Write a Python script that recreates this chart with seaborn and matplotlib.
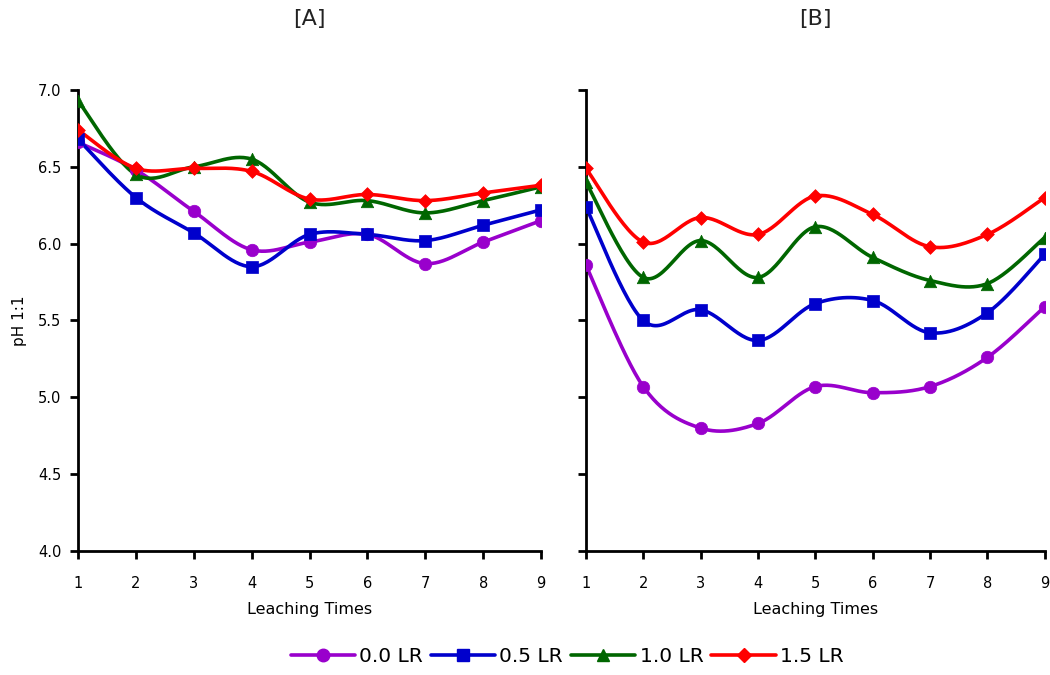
import numpy as np
import pandas as pd
import matplotlib
matplotlib.use("Agg")
import matplotlib.pyplot as plt
import seaborn as sns
from matplotlib.lines import Line2D

# Data
leaching = [1, 2, 3, 4, 5, 6, 7, 8, 9]
labels = ["0.0 LR", "0.5 LR", "1.0 LR", "1.5 LR"]

a_00 = [6.66, 6.48, 6.21, 5.96, 6.01, 6.06, 5.87, 6.01, 6.15]
a_05 = [6.68, 6.30, 6.07, 5.85, 6.06, 6.06, 6.02, 6.12, 6.22]
a_10 = [6.93, 6.45, 6.50, 6.55, 6.27, 6.28, 6.20, 6.28, 6.37]
a_15 = [6.74, 6.49, 6.49, 6.47, 6.29, 6.32, 6.28, 6.33, 6.38]

b_00 = [5.86, 5.07, 4.80, 4.83, 5.07, 5.03, 5.07, 5.26, 5.59]
b_05 = [6.24, 5.50, 5.57, 5.37, 5.61, 5.63, 5.42, 5.55, 5.93]
b_10 = [6.40, 5.78, 6.02, 5.78, 6.11, 5.91, 5.76, 5.74, 6.04]
b_15 = [6.49, 6.01, 6.17, 6.06, 6.31, 6.19, 5.98, 6.06, 6.30]

colors = ["#9900CC", "#0000CC", "#006600", "#FF0000"]
markers = ["o", "s", "^", "D"]
msizes = [9, 8, 9, 7]


def smooth(x, y, n=30):
    # Excel-style smoothed line (Catmull-Rom / Bezier through the points)
    p = np.column_stack([x, y]).astype(float)
    p = np.vstack([p[0], p, p[-1]])
    out = []
    t = np.linspace(0, 1, n)[:, None]
    for i in range(1, len(p) - 2):
        p0, p1, p2, p3 = p[i - 1], p[i], p[i + 1], p[i + 2]
        c1 = p1 + (p2 - p0) / 6
        c2 = p2 - (p3 - p1) / 6
        seg = ((1 - t) ** 3) * p1 + 3 * ((1 - t) ** 2) * t * c1 + 3 * (1 - t) * t ** 2 * c2 + t ** 3 * p2
        out.append(seg if i == 1 else seg[1:])
    out = np.vstack(out)
    return out[:, 0], out[:, 1]


sns.set_style("white")
plt.rcParams["font.family"] = ["DejaVu Sans"]
plt.rcParams["text.color"] = "black"
plt.rcParams["axes.labelcolor"] = "black"
plt.rcParams["xtick.color"] = "black"
plt.rcParams["ytick.color"] = "black"

fig = plt.figure(figsize=(10.5, 6.75), dpi=100)
ax_a = fig.add_axes([0.0743, 0.1837, 0.441, 0.683])
ax_b = fig.add_axes([0.558, 0.1837, 0.437, 0.683])

for ax, series, title in [(ax_a, [a_00, a_05, a_10, a_15], "[A]"),
                          (ax_b, [b_00, b_05, b_10, b_15], "[B]")]:
    for vals, c, m, ms in zip(series, colors, markers, msizes):
        sx, sy = smooth(leaching, vals)
        sns.lineplot(x=sx, y=sy, ax=ax, color=c, lw=2.6, sort=False, zorder=2)
        df = pd.DataFrame({"x": leaching, "y": vals})
        sns.scatterplot(data=df, x="x", y="y", ax=ax, color=c, marker=m,
                        s=ms ** 2, edgecolor=c, linewidth=0.5, zorder=3)
    ax.set_xlim(1, 9)
    ax.set_ylim(4.0, 7.0)
    ax.set_xticks(leaching)
    ax.set_yticks(np.arange(4.0, 7.01, 0.5))
    ax.set_yticklabels([f"{v:.1f}" for v in np.arange(4.0, 7.01, 0.5)])
    for s in ["top", "right"]:
        ax.spines[s].set_visible(False)
    for s in ["left", "bottom"]:
        ax.spines[s].set_color("black")
        ax.spines[s].set_linewidth(2)
    ax.tick_params(axis="both", direction="out", length=6, width=2,
                   color="black", labelcolor="black", labelsize=10.5,
                   bottom=True, left=True)
    ax.tick_params(axis="x", pad=12)
    ax.tick_params(axis="y", pad=6)
    ax.set_xlabel("Leaching Times", fontsize=11.5, labelpad=8)
    ax.set_ylabel("")
    ax.patch.set_alpha(0)
    ax.set_title(title, fontsize=16, pad=47, color="#222222")

ax_a.set_ylabel("pH 1:1", fontsize=11, labelpad=8)
ax_b.set_yticklabels([])

handles = [Line2D([0], [0], color=c, lw=2.6, marker=m, markersize=ms)
           for c, m, ms in zip(colors, markers, msizes)]
fig.legend(handles, labels, loc="center", bbox_to_anchor=(0.54, 0.027),
           ncol=4, frameon=False, fontsize=14.5, handlelength=3.2,
           handletextpad=0.2, columnspacing=0.4)

fig.savefig("out.png", dpi=100)
